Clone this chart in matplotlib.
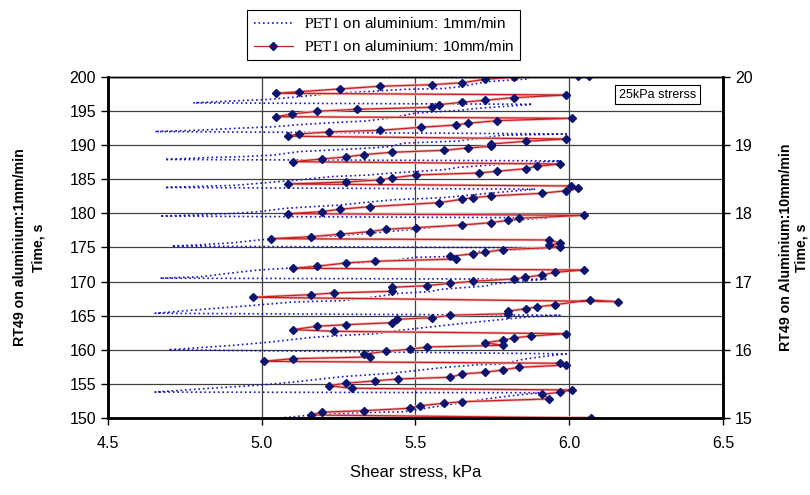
import matplotlib
matplotlib.use("Agg")
import matplotlib.pyplot as plt

plt.rcParams['font.family'] = ['Liberation Sans', 'DejaVu Sans']
plt.rcParams['mathtext.fontset'] = 'stix'

# PET1 on aluminium, 1 mm/min  (left axis, time in s)
slow_stress = [4.90, 5.06, 5.20, 5.33, 5.46, 5.60, 5.73, 5.80, 5.86, 5.91,
               4.653, 4.83, 4.99, 5.11, 5.26, 5.42, 5.59, 5.70, 5.78, 5.85, 5.93, 5.99,
               4.696, 4.91, 5.02, 5.16, 5.26, 5.37, 5.45, 5.54, 5.64, 5.75, 5.86, 5.97,
               4.653, 4.80, 4.97, 5.10, 5.26, 5.36, 5.45, 5.54, 5.59, 5.73, 5.75, 5.86, 5.93,
               4.669, 4.80, 4.91, 4.99, 5.08, 5.26, 5.43, 5.50, 5.63, 5.70, 5.77, 5.91, 5.95,
               4.707, 4.80, 4.91, 4.99, 5.08, 5.24, 5.38, 5.50, 5.62, 5.73, 5.85, 5.93,
               4.669, 4.80, 4.91, 4.99, 5.08, 5.17, 5.25, 5.38, 5.43, 5.59, 5.75, 5.85, 5.89,
               4.685, 4.82, 4.91, 4.99, 5.12, 5.23, 5.34, 5.42, 5.59, 5.64, 5.78, 5.92, 5.97,
               4.685, 4.83, 4.93, 5.04, 5.12, 5.23, 5.34, 5.42, 5.46, 5.64, 5.78, 5.90, 5.99,
               4.653, 4.80, 4.93, 5.04, 5.12, 5.23, 5.34, 5.42, 5.50, 5.64, 5.70, 5.86, 5.88,
               4.777, 4.91, 5.02, 5.12, 5.23, 5.34, 5.47, 5.59, 5.65, 5.73, 5.86, 5.87,
               4.80, 5.05]
slow_time = [149.2, 150.0, 150.6, 150.8, 150.9, 151.9, 152.8, 153.2, 153.5, 153.7,
             153.8, 154.35, 154.8, 155.3, 156.05, 156.55, 157.4, 157.8, 157.9, 158.6, 159.1, 159.4,
             160.0, 160.66, 161.1, 161.8, 162.1, 162.35, 162.86, 163.3, 163.8, 164.3, 164.8, 165.06,
             165.35, 165.9, 166.5, 167.0, 167.2, 167.7, 168.3, 168.5, 168.9, 169.35, 169.65, 170.1, 170.35,
             170.5, 170.7, 171.3, 171.7, 171.95, 172.6, 173.1, 173.55, 173.7, 174.4, 174.6, 174.8, 174.95,
             175.2, 175.4, 175.7, 176.1, 176.4, 176.7, 177.2, 177.7, 178.2, 178.6, 179.1, 179.35,
             179.6, 179.8, 180.0, 180.25, 180.75, 181.0, 181.2, 181.8, 182.0, 182.3, 183.0, 183.4, 183.55,
             183.8, 184.0, 184.1, 184.4, 184.9, 185.4, 185.6, 185.9, 186.4, 186.75, 187.2, 187.55, 187.7,
             187.9, 188.2, 188.3, 188.55, 189.05, 189.3, 189.55, 189.8, 190.3, 190.6, 191.45, 191.55, 191.65,
             192.0, 192.2, 192.5, 192.7, 193.0, 193.3, 193.55, 194.0, 194.7, 195.1, 195.4, 195.9, 196.0,
             196.2, 196.5, 196.7, 197.1, 197.6, 197.85, 198.2, 198.3, 198.6, 199.3, 199.7, 199.9,
             200.0, 200.1]

# PET1 on aluminium, 10 mm/min  (right axis, time in s)
fast_stress = [5.62, 6.07,
               5.159, 5.196, 5.331, 5.481, 5.516, 5.594, 5.652, 5.933, 5.913, 5.970, 6.009, 5.292,
               5.218, 5.273, 5.367, 5.443, 5.613, 5.652, 5.726, 5.783, 5.838, 5.991, 5.970,
               5.006, 5.102, 5.351, 5.331, 5.405, 5.481, 5.537, 5.783, 5.726, 5.783, 5.819, 5.876, 5.991, 5.235,
               5.102, 5.180, 5.273, 5.424, 5.441, 5.554, 5.613, 5.800, 5.800, 5.859, 5.895, 5.954, 6.067, 6.159,
               4.972, 5.159, 5.235, 5.424, 5.424, 5.537, 5.613, 5.686, 5.819, 5.857, 5.913, 5.954, 6.049,
               5.102, 5.180, 5.273, 5.367, 5.632, 5.613, 5.686, 5.726, 5.783, 5.971, 5.935, 5.971, 5.935,
               5.031, 5.161, 5.253, 5.351, 5.405, 5.501, 5.652, 5.746, 5.800, 5.838, 6.049,
               5.085, 5.196, 5.253, 5.351, 5.576, 5.652, 5.686, 5.746, 5.913, 5.989, 6.030, 6.005,
               5.085, 5.273, 5.385, 5.424, 5.501, 5.706, 5.764, 5.859, 5.895, 5.970,
               5.102, 5.196, 5.273, 5.331, 5.424, 5.594, 5.670, 5.746, 5.746, 5.859, 5.991,
               5.085, 5.121, 5.218, 5.385, 5.518, 5.632, 5.670, 5.764, 6.009,
               5.048, 5.100, 5.180, 5.311, 5.554, 5.576, 5.652, 5.726, 5.819, 5.991,
               5.048, 5.121, 5.253, 5.385, 5.554, 5.652, 5.726, 5.819, 6.027, 6.065]
fast_time = [14.99, 15.00,
             15.044, 15.084, 15.107, 15.142, 15.180, 15.216, 15.239, 15.279, 15.348, 15.377, 15.411, 15.435,
             15.474, 15.509, 15.543, 15.572, 15.597, 15.645, 15.670, 15.704, 15.743, 15.777, 15.802,
             15.831, 15.870, 15.894, 15.934, 15.978, 16.007, 16.041, 16.066, 16.104, 16.139, 16.173, 16.202, 16.236, 16.271,
             16.295, 16.345, 16.368, 16.397, 16.447, 16.471, 16.506, 16.529, 16.565, 16.603, 16.628, 16.661, 16.730, 16.706,
             16.770, 16.808, 16.833, 16.858, 16.916, 16.940, 16.975, 17.004, 17.038, 17.063, 17.097, 17.136, 17.170,
             17.195, 17.224, 17.273, 17.298, 17.331, 17.371, 17.405, 17.430, 17.468, 17.503, 17.537, 17.562, 17.610,
             17.629, 17.658, 17.694, 17.732, 17.767, 17.790, 17.830, 17.864, 17.899, 17.928, 17.972,
             17.996, 18.025, 18.060, 18.098, 18.157, 18.207, 18.230, 18.255, 18.295, 18.333, 18.368, 18.402,
             18.431, 18.460, 18.490, 18.519, 18.563, 18.592, 18.617, 18.655, 18.691, 18.724,
             18.758, 18.798, 18.827, 18.861, 18.896, 18.925, 18.959, 18.984, 19.018, 19.057, 19.091,
             19.131, 19.164, 19.194, 19.218, 19.262, 19.296, 19.321, 19.359, 19.394,
             19.418, 19.457, 19.497, 19.526, 19.556, 19.594, 19.629, 19.658, 19.696, 19.736,
             19.761, 19.784, 19.824, 19.864, 19.887, 19.916, 19.966, 19.996, 20.02, 20.015]

x_ticks = [4.5, 5.0, 5.5, 6.0, 6.5]
x_labels = ['4.5', '5.0', '5.5', '6.0', '6.5']
left_ticks = list(range(150, 201, 5))
right_ticks = list(range(15, 21))

blue = '#1818c0'
red = '#c82020'
navy = '#0b1470'

fig = plt.figure(figsize=(8.1, 4.95), dpi=100, facecolor='white')
ax = fig.add_axes([0.1333, 0.1556, 0.7593, 0.6889])
ax2 = ax.twinx()

l1, = ax.plot(slow_stress, slow_time, linestyle=(0, (1.0, 1.7)), color=blue, lw=1.2)

# pale halo under the 10 mm/min trace, then the trace itself
ax2.plot(fast_stress, fast_time, color='#efb8b8', lw=2.0, solid_capstyle='butt')
l2, = ax2.plot(fast_stress, fast_time, color=red, lw=0.9, marker='D', ms=4.3,
               mfc=navy, mec=navy, markevery=slice(1, None))

ax.set_xlim(4.5, 6.5)
ax.set_ylim(150, 200)
ax2.set_ylim(15, 20)
ax.set_xticks(x_ticks)
ax.set_xticklabels(x_labels)
ax.set_yticks(left_ticks)
ax2.set_yticks(right_ticks)

ax.set_axisbelow(True)
ax.grid(True, color='#404040', lw=0.9)
ax2.grid(False)

for a in (ax, ax2):
    a.tick_params(direction='out', length=5, width=1, labelsize=11.5, colors='black')
    for s in ('left', 'right', 'bottom'):
        a.spines[s].set_linewidth(1.8)
        a.spines[s].set_color('black')
    a.spines['top'].set_linewidth(1.0)
ax.tick_params(axis='x', pad=8)

ax.set_xlabel('Shear stress, kPa', fontsize=12, labelpad=10)
ax.set_ylabel('RT49 on aluminium:1mm/min\nTime, s', fontsize=10.2, fontweight='bold',
              labelpad=17, linespacing=1.45)
ax2.set_ylabel('RT49 on Aluminium:10mm/min\nTime, s', fontsize=10.2, fontweight='bold',
               rotation=90, labelpad=19, linespacing=1.15)

ax.text(6.286, 197.43, '25kPa strerss', ha='center', va='center', fontsize=9,
        bbox=dict(boxstyle='square,pad=0.3', fc='white', ec='black', lw=0.8))

leg = fig.legend([l1, l2],
                 [r'$\mathrm{PET1}$ on aluminium: 1mm/min',
                  r'$\mathrm{PET1}$ on aluminium: 10mm/min'],
                 loc='upper center', bbox_to_anchor=(0.474, 0.995),
                 frameon=True, fancybox=False, edgecolor='black', framealpha=1,
                 fontsize=11, handlelength=2.6, borderpad=0.4, labelspacing=0.5,
                 handletextpad=0.7)
leg.get_frame().set_linewidth(0.8)

fig.savefig('out.png', dpi=100)
